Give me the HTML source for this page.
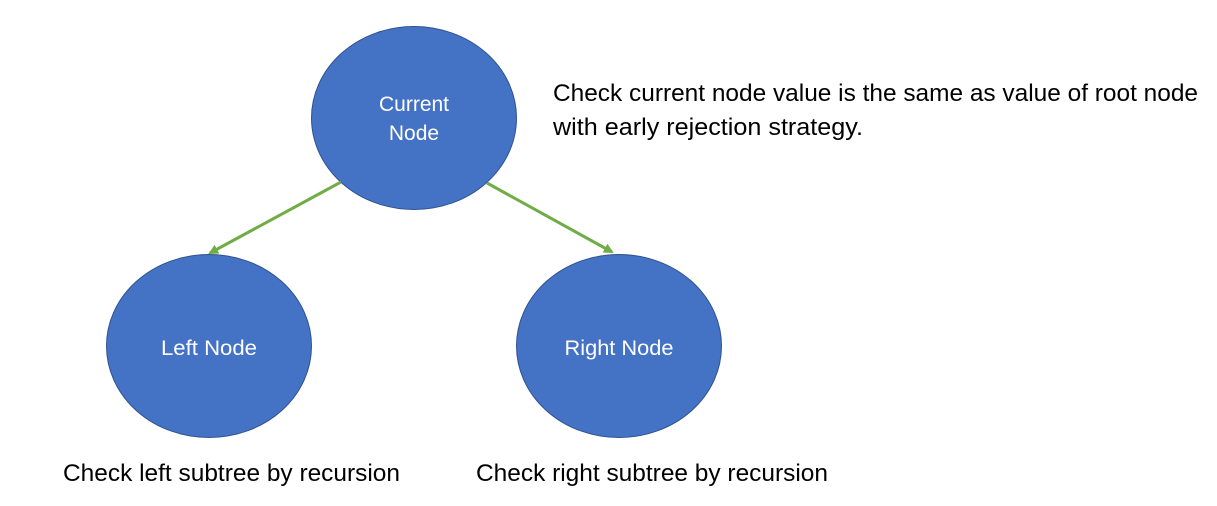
<!DOCTYPE html>
<html><head><meta charset="utf-8"><style>
html,body{margin:0;padding:0;background:#fff;width:1217px;height:506px;overflow:hidden}
svg text{font-family:"Liberation Sans",sans-serif}
</style></head><body>
<svg width="1217" height="506" viewBox="0 0 1217 506" xmlns="http://www.w3.org/2000/svg">
<defs><marker id="a" markerWidth="10" markerHeight="10" refX="8" refY="5" orient="auto" markerUnits="userSpaceOnUse"><path d="M0,0 L10,5 L0,10 z" fill="#70AD47"/></marker></defs>
<ellipse cx="414" cy="118" rx="102.5" ry="91.5" fill="#4472C4" stroke="#2F528F" stroke-width="1"/>
<ellipse cx="209" cy="346" rx="102.5" ry="91.5" fill="#4472C4" stroke="#2F528F" stroke-width="1"/>
<ellipse cx="619" cy="346" rx="102.5" ry="91.5" fill="#4472C4" stroke="#2F528F" stroke-width="1"/>
<line x1="341" y1="182" x2="210" y2="253" stroke="#70AD47" stroke-width="3" marker-end="url(#a)"/>
<line x1="487" y1="183" x2="612" y2="252" stroke="#70AD47" stroke-width="3" marker-end="url(#a)"/>
<g fill="#fff" font-size="21" text-anchor="middle">
<text x="414" y="111">Current</text>
<text x="414" y="140">Node</text>
<text x="209" y="355" textLength="96" lengthAdjust="spacingAndGlyphs">Left Node</text>
<text x="619" y="355" textLength="109" lengthAdjust="spacingAndGlyphs">Right Node</text>
</g>
<g fill="#000" font-size="24">
<text x="553" y="101" textLength="645" lengthAdjust="spacingAndGlyphs">Check current node value is the same as value of root node</text>
<text x="553" y="135" textLength="310" lengthAdjust="spacingAndGlyphs">with early rejection strategy.</text>
<text x="63" y="481" textLength="337" lengthAdjust="spacingAndGlyphs">Check left subtree by recursion</text>
<text x="476" y="481" textLength="352" lengthAdjust="spacingAndGlyphs">Check right subtree by recursion</text>
</g>
</svg>
</body></html>
